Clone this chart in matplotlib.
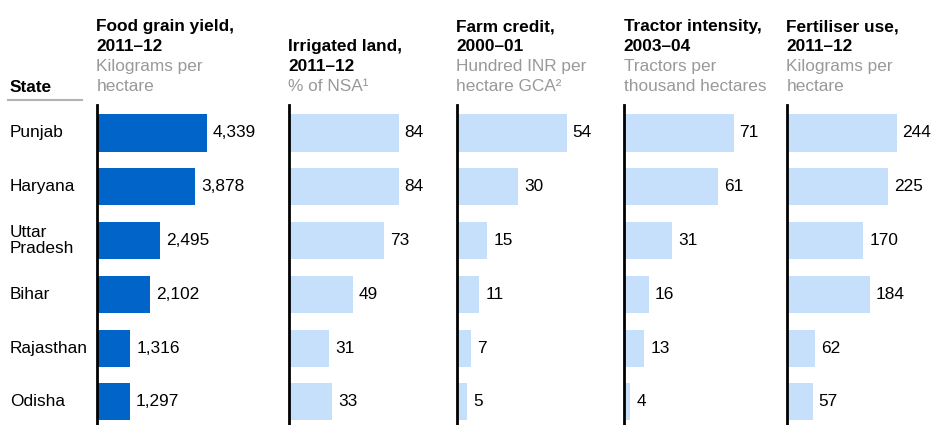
import matplotlib
matplotlib.use('Agg')
import matplotlib.pyplot as plt
import matplotlib.transforms as mtransforms

plt.rcParams['font.family'] = ['Liberation Sans', 'DejaVu Sans']

states = ['Punjab', 'Haryana', 'Uttar\nPradesh', 'Bihar', 'Rajasthan', 'Odisha']

food_grain = [4339, 3878, 2495, 2102, 1316, 1297]
irrigated = [84, 84, 73, 49, 31, 33]
farm_credit = [54, 30, 15, 11, 7, 5]
tractors = [71, 61, 31, 16, 13, 4]
fertiliser = [244, 225, 170, 184, 62, 57]

titles = [
    ['Food grain yield,', '2011\u201312'],
    ['Irrigated land,', '2011\u201312'],
    ['Farm credit,', '2000\u201301'],
    ['Tractor intensity,', '2003\u201304'],
    ['Fertiliser use,', '2011\u201312'],
]
units = [
    ['Kilograms per', 'hectare'],
    ['% of NSA\u00b9'],
    ['Hundred INR per', 'hectare GCA\u00b2'],
    ['Tractors per', 'thousand hectares'],
    ['Kilograms per', 'hectare'],
]
series = [food_grain, irrigated, farm_credit, tractors, fertiliser]

W, H = 931, 425
fig = plt.figure(figsize=(W / 100, H / 100), dpi=100)

dark_blue = '#0064c8'
light_blue = '#c6dffa'
grey = '#999999'
fs = 12.4

panel_x = [97, 289, 457, 624, 787]
panel_w = 150
bar_px = 109.5
top_px = 105

axes = []
for k, vals in enumerate(series):
    ax = fig.add_axes([panel_x[k] / W, 0, panel_w / W, 1 - top_px / H])
    pos = list(range(len(vals)))
    color = dark_blue if k == 0 else light_blue
    ax.barh(pos, vals, height=0.69, color=color, edgecolor='none')
    xmax = max(vals) * panel_w / bar_px
    ax.set_xlim(0, xmax)
    ax.set_ylim(5.43, -0.52)
    for sp in ['top', 'right', 'bottom']:
        ax.spines[sp].set_visible(False)
    ax.spines['left'].set_linewidth(2)
    ax.spines['left'].set_color('black')
    ax.set_xticks([])
    ax.set_yticks([])
    ax.patch.set_alpha(0)
    for i, v in enumerate(vals):
        ax.annotate(f'{v:,}', xy=(v, i), xytext=(4.4, 0), textcoords='offset points',
                    ha='left', va='center', fontsize=fs, color='black')
    axes.append(ax)

    # header lines, bottom aligned
    lines = [(t, 'black', 'bold') for t in titles[k]] + [(u, grey, 'normal') for u in units[k]]
    base = 90.8
    step = 19.9
    n = len(lines)
    for j, (txt, c, w) in enumerate(lines):
        y = base - (n - 1 - j) * step
        fig.text((panel_x[k] - 0.5) / W, 1 - y / H, txt, ha='left', va='baseline',
                 fontsize=fs, color=c, fontweight=w)

# row labels
trans = mtransforms.blended_transform_factory(fig.transFigure, axes[0].transData)
for i, s in enumerate(states):
    axes[0].text(10 / W, i, s, transform=trans, ha='left', va='center',
                 fontsize=fs, color='black', linespacing=1.1)

fig.text(10 / W, 1 - 92 / H, 'State', ha='left', va='baseline', fontsize=fs,
         fontweight='bold', color='black')
fig.add_artist(plt.Line2D([8 / W, 82 / W], [1 - 100 / H, 1 - 100 / H],
                          color='#b3b3b3', linewidth=1.5))

fig.savefig('out.png', dpi=100)
